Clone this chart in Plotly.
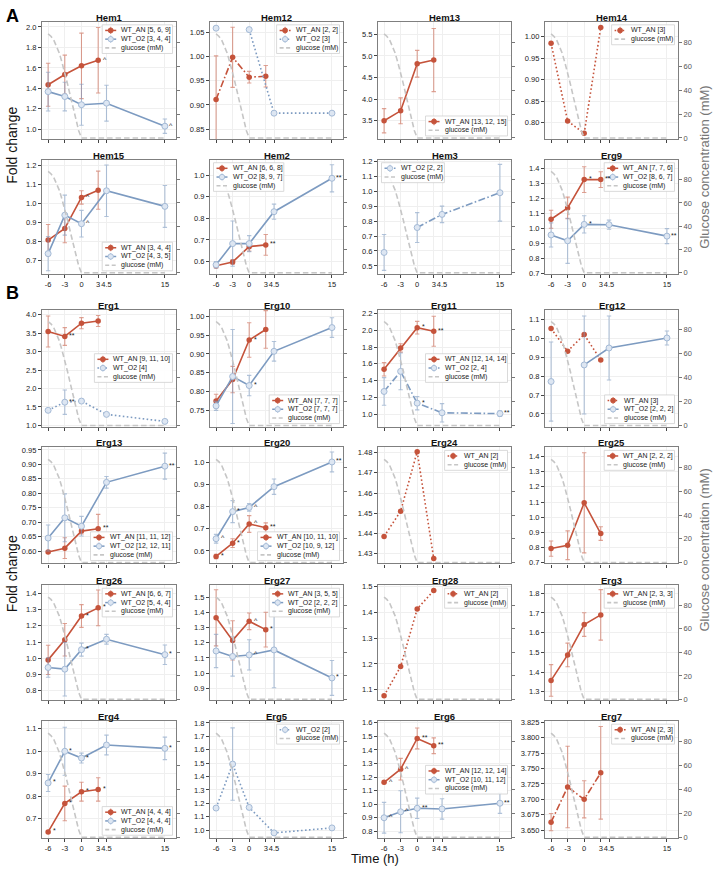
import plotly.graph_objects as go

W, H = 714, 871
FONT = 'Liberation Sans, Arial, sans-serif'

# ---------------- shared values ----------------
T_AN = [-6, -3, 0, 3]
T_O2 = [-6, -3, 0, 4.5, 15]
X_TICKS = [-6, -3, 0, 3, 4.5, 15]
X_TICKTEXT = ['-6', '-3', '0', '3', '4.5', '15']
GLU_T = [-6, -5.5, -5, -4.5, -4, -3.5, -3, -2.5, -2, -1.5, -1, -0.5, 0, 15]
GLU_MM = [87, 85, 82, 77, 71, 63, 55, 45, 35, 25, 15, 6, 0, 0]
GLU_TICKS = [0, 20, 40, 60, 80]

# ---------------- panel data ----------------
hem1_an = [1.435, 1.535, 1.62, 1.675]
hem1_an_sd = [0.21, 0.19, 0.32, 0.32]
hem1_an_sig = ['', '', '', '^']
hem1_an_n = [5, 6, 9]
hem1_o2 = [1.368, 1.32, 1.24, 1.255, 1.03]
hem1_o2_sd = [0.19, 0.14, 0.2, 0.175, 0.07]
hem1_o2_sig = ['', '', '', '', '^']
hem1_o2_n = [3, 4, 4]

hem12_an = [0.911, 0.998, 0.957, 0.959]
hem12_an_sd = [0.09, 0.062, 0.012, 0.022]
hem12_an_n = [2, 2]
hem12_o2 = [1.058, None, 1.055, 0.883, 0.883]
hem12_o2_n = [3]

hem13_an = [3.5, 3.73, 4.82, 4.905]
hem13_an_sd = [0.28, 0.3, 0.31, 0.73]
hem13_an_n = [13, 12, 15]

hem14_an = [0.985, 0.8035, 0.775, 1.022]
hem14_an_n = [3]

hem15_an = [0.809, 0.87, 1.033, 1.071]
hem15_an_sd = [0.082, 0.075, 0.035, 0.1]
hem15_an_sig = ['', '', '^', '']
hem15_an_n = [3, 4, 4]
hem15_o2 = [0.738, 0.94, 0.895, 1.068, 0.986]
hem15_o2_sd = [0.09, 0.105, 0.07, 0.135, 0.11]
hem15_o2_sig = ['', '', '^', '', '']
hem15_o2_n = [4, 3, 5]

hem2_an = [0.58, 0.598, 0.669, 0.677]
hem2_an_sd = [0.01, 0.01, 0.02, 0.048]
hem2_an_sig = ['', '', '', '**']
hem2_an_n = [6, 6, 8]
hem2_o2 = [0.585, 0.683, 0.683, 0.831, 0.986]
hem2_o2_sd = [0.015, 0.105, 0.037, 0.035, 0.063]
hem2_o2_sig = ['', '', '', '', '**']
hem2_o2_n = [8, 9, 7]

hem3_o2 = [0.59, None, 0.757, 0.845, 0.99]
hem3_o2_sd = [0.12, None, 0.1, 0.055, 0.19]
hem3_o2_n = [2, 2]

erg9_an = [1.06, 1.135, 1.323, 1.323]
erg9_an_sd = [0.06, 0.072, 0.085, 0.052]
erg9_an_sig = ['', '', '*', '**']
erg9_an_n = [7, 7, 6]
erg9_o2 = [0.956, 0.917, 1.026, 1.024, 0.948]
erg9_o2_sd = [0.08, 0.15, 0.057, 0.03, 0.05]
erg9_o2_sig = ['', '', '*', '', '**']
erg9_o2_n = [8, 6, 7]

erg1_an = [3.545, 3.41, 3.77, 3.83]
erg1_an_sd = [0.42, 0.24, 0.15, 0.15]
erg1_an_sig = ['', '**', '', '']
erg1_an_n = [9, 11, 10]
erg1_o2 = [1.41, 1.63, 1.66, 1.30, 1.11]
erg1_o2_sd = [None, 0.33, None, None, None]
erg1_o2_sig = ['', '**', '', '', '']
erg1_o2_n = [4]

erg10_an = [0.775, 0.832, 0.937, 0.965]
erg10_an_sd = [0.018, 0.035, 0.046, 0.05]
erg10_an_sig = ['', '', '*', '']
erg10_an_n = [7, 7, 7]
erg10_o2 = [0.762, 0.84, 0.816, 0.907, 0.97]
erg10_o2_sd = [0.012, 0.125, 0.027, 0.026, 0.026]
erg10_o2_sig = ['', '', '*', '', '']
erg10_o2_n = [7, 7, 7]

erg11_an = [1.535, 1.79, 2.033, 1.99]
erg11_an_sd = [0.08, 0.05, 0.075, 0.18]
erg11_an_sig = ['', '', '*', '**']
erg11_an_n = [12, 14, 14]
erg11_o2 = [1.27, 1.51, 1.13, 1.015, 1.005]
erg11_o2_sd = [0.165, 0.22, 0.08, 0.11, 0.035]
erg11_o2_sig = ['', '', '*', '', '**']
erg11_o2_n = [2, 4]

erg12_an = [1.053, 0.933, 1.021, 0.886]
erg12_an_n = [3]
erg12_o2 = [0.772, None, 0.86, 0.95, 1.003]
erg12_o2_sd = [0.21, None, 0.26, 0.17, 0.037]
erg12_o2_n = [2, 2, 2]

erg13_an = [0.597, 0.61, 0.669, 0.677]
erg13_an_sd = [0.005, 0.036, 0.01, 0.05]
erg13_an_sig = ['', '', '', '**']
erg13_an_n = [11, 11, 12]
erg13_o2 = [0.645, 0.715, 0.686, 0.838, 0.894]
erg13_o2_sd = [0.045, 0.083, 0.034, 0.02, 0.045]
erg13_o2_sig = ['', '', '', '', '**']
erg13_o2_n = [12, 12, 11]

erg20_an = [0.575, 0.635, 0.722, 0.705]
erg20_an_sd = [0.01, 0.02, 0.038, 0.022]
erg20_an_sig = ['*', '*', '^', '**']
erg20_an_n = [10, 11, 10]
erg20_o2 = [0.655, 0.778, 0.797, 0.891, 1.003]
erg20_o2_sd = [0.02, 0.05, 0.017, 0.035, 0.045]
erg20_o2_sig = ['^', '*', '^', '', '**']
erg20_o2_n = [10, 9, 12]

erg24_an = [1.4385, 1.451, 1.4805, 1.4275]
erg24_an_n = [2]

erg25_an = [0.793, 0.815, 1.095, 0.892]
erg25_an_sd = [0.05, 0.095, 0.33, 0.045]
erg25_an_n = [2, 2, 2]

erg26_an = [0.99, 1.114, 1.26, 1.31]
erg26_an_sd = [0.09, 0.1, 0.07, 0.11]
erg26_an_sig = ['', '', '*', '*']
erg26_an_n = [6, 6, 7]
erg26_o2 = [0.943, 0.933, 1.053, 1.117, 1.022]
erg26_o2_sd = [0.06, 0.165, 0.04, 0.03, 0.06]
erg26_o2_sig = ['', '', '*', '', '*']
erg26_o2_n = [5, 4, 4]

erg27_an = [1.365, 1.216, 1.342, 1.287]
erg27_an_sd = [0.185, 0.13, 0.055, 0.115]
erg27_an_sig = ['', '', '^', '*']
erg27_an_n = [3, 5, 5]
erg27_o2 = [1.146, 1.11, 1.12, 1.153, 0.968]
erg27_o2_sd = [0.11, 0.13, 0.1, 0.25, 0.115]
erg27_o2_sig = ['', '', '^', '', '*']
erg27_o2_n = [2, 2, 2]

erg28_an = [1.077, 1.19, 1.413, 1.485]
erg28_an_n = [2]

erg3_an = [1.358, 1.487, 1.641, 1.69]
erg3_an_sd = [0.08, 0.06, 0.06, 0.128]
erg3_an_n = [2, 3, 3]

erg4_an = [0.641, 0.768, 0.82, 0.83]
erg4_an_sd = [0.005, 0.077, 0.042, 0.052]
erg4_an_sig = ['*', '*', '*', '*']
erg4_an_n = [4, 4, 4]
erg4_o2 = [0.859, 1.0, 0.97, 1.028, 1.013]
erg4_o2_sd = [0.038, 0.107, 0.022, 0.044, 0.05]
erg4_o2_sig = ['*', '*', '*', '', '*']
erg4_o2_n = [4, 4, 4]

erg5_o2 = [1.165, 1.493, 1.17, 0.98, 1.017]
erg5_o2_sd = [None, 0.27, None, None, None]
erg5_o2_n = [2]

erg6_an = [1.161, 1.258, 1.485, 1.431]
erg6_an_sd = [0.01, 0.08, 0.077, 0.058]
erg6_an_sig = ['^', '^', '**', '**']
erg6_an_n = [12, 12, 14]
erg6_o2 = [0.9, 0.944, 0.97, 0.965, 1.007]
erg6_o2_sd = [0.113, 0.155, 0.075, 0.075, 0.075]
erg6_o2_sig = ['^', '^', '**', '', '**']
erg6_o2_n = [10, 11, 12]

erg7_an = [3.663, 3.72, 3.70, 3.743]
erg7_an_sd = [0.014, 0.066, 0.03, 0.075]
erg7_an_n = [2, 3]


def S(y, n, sd=None, sig=None):
    return dict(y=y, n=n, sd=sd, sig=sig)


PANELS = [
    dict(name='Hem1', an=S(hem1_an, hem1_an_n, hem1_an_sd, hem1_an_sig),
         o2=S(hem1_o2, hem1_o2_n, hem1_o2_sd, hem1_o2_sig), yr=(0.906, 2.05), dt=0.2, fmt='.1f', leg='ur'),
    dict(name='Hem12', an=S(hem12_an, hem12_an_n, hem12_an_sd),
         o2=S(hem12_o2, hem12_o2_n), yr=(0.83, 1.071), dt=0.05, fmt='.2f', leg='ur'),
    dict(name='Hem13', an=S(hem13_an, hem13_an_n, hem13_an_sd), o2=None,
         yr=(3.08, 5.79), dt=0.5, fmt='.1f', leg='lr'),
    dict(name='Hem14', an=S(hem14_an, hem14_an_n), o2=None,
         yr=(0.762, 1.035), dt=0.05, fmt='.2f', leg='ur'),
    dict(name='Hem15', an=S(hem15_an, hem15_an_n, hem15_an_sd, hem15_an_sig),
         o2=S(hem15_o2, hem15_o2_n, hem15_o2_sd, hem15_o2_sig), yr=(0.632, 1.231), dt=0.1, fmt='.1f', leg='lr'),
    dict(name='Hem2', an=S(hem2_an, hem2_an_n, hem2_an_sd, hem2_an_sig),
         o2=S(hem2_o2, hem2_o2_n, hem2_o2_sd, hem2_o2_sig), yr=(0.543, 1.072), dt=0.1, fmt='.1f', leg='ul'),
    dict(name='Hem3', an=None, o2=S(hem3_o2, hem3_o2_n, hem3_o2_sd),
         yr=(0.447, 1.211), dt=0.1, fmt='.1f', leg='ul'),
    dict(name='Erg9', an=S(erg9_an, erg9_an_n, erg9_an_sd, erg9_an_sig),
         o2=S(erg9_o2, erg9_o2_n, erg9_o2_sd, erg9_o2_sig), yr=(0.698, 1.455), dt=0.1, fmt='.1f', leg='ur'),
    dict(name='Erg1', an=S(erg1_an, erg1_an_n, erg1_an_sd, erg1_an_sig),
         o2=S(erg1_o2, erg1_o2_n, erg1_o2_sd, erg1_o2_sig), yr=(0.97, 4.14), dt=0.5, fmt='.1f', leg='cr'),
    dict(name='Erg10', an=S(erg10_an, erg10_an_n, erg10_an_sd, erg10_an_sig),
         o2=S(erg10_o2, erg10_o2_n, erg10_o2_sd, erg10_o2_sig), yr=(0.707, 1.018), dt=0.05, fmt='.2f', leg='lr'),
    dict(name='Erg11', an=S(erg11_an, erg11_an_n, erg11_an_sd, erg11_an_sig),
         o2=S(erg11_o2, erg11_o2_n, erg11_o2_sd, erg11_o2_sig), yr=(0.85, 2.25), dt=0.2, fmt='.1f', leg='cr'),
    dict(name='Erg12', an=S(erg12_an, erg12_an_n),
         o2=S(erg12_o2, erg12_o2_n, erg12_o2_sd), yr=(0.533, 1.154), dt=0.1, fmt='.1f', leg='lr'),
    dict(name='Erg13', an=S(erg13_an, erg13_an_n, erg13_an_sd, erg13_an_sig),
         o2=S(erg13_o2, erg13_o2_n, erg13_o2_sd, erg13_o2_sig), yr=(0.557, 0.959), dt=0.05, fmt='.2f', leg='lr'),
    dict(name='Erg20', an=S(erg20_an, erg20_an_n, erg20_an_sd, erg20_an_sig),
         o2=S(erg20_o2, erg20_o2_n, erg20_o2_sd, erg20_o2_sig), yr=(0.543, 1.069), dt=0.1, fmt='.1f', leg='lr'),
    dict(name='Erg24', an=S(erg24_an, erg24_an_n), o2=None,
         yr=(1.4251, 1.4826), dt=0.01, fmt='.2f', leg='ur'),
    dict(name='Erg25', an=S(erg25_an, erg25_an_n, erg25_an_sd), o2=None,
         yr=(0.695, 1.46), dt=0.1, fmt='.1f', leg='ur'),
    dict(name='Erg26', an=S(erg26_an, erg26_an_n, erg26_an_sd, erg26_an_sig),
         o2=S(erg26_o2, erg26_o2_n, erg26_o2_sd, erg26_o2_sig), yr=(0.741, 1.449), dt=0.1, fmt='.1f', leg='ur'),
    dict(name='Erg27', an=S(erg27_an, erg27_an_n, erg27_an_sd, erg27_an_sig),
         o2=S(erg27_o2, erg27_o2_n, erg27_o2_sd, erg27_o2_sig), yr=(0.82, 1.58), dt=0.1, fmt='.1f', leg='ur'),
    dict(name='Erg28', an=S(erg28_an, erg28_an_n), o2=None,
         yr=(1.059, 1.505), dt=0.1, fmt='.1f', leg='ur'),
    dict(name='Erg3', an=S(erg3_an, erg3_an_n, erg3_an_sd), o2=None,
         yr=(1.257, 1.84), dt=0.1, fmt='.1f', leg='ur'),
    dict(name='Erg4', an=S(erg4_an, erg4_an_n, erg4_an_sd, erg4_an_sig),
         o2=S(erg4_o2, erg4_o2_n, erg4_o2_sd, erg4_o2_sig), yr=(0.613, 1.134), dt=0.1, fmt='.1f', leg='lr'),
    dict(name='Erg5', an=None, o2=S(erg5_o2, erg5_o2_n, erg5_o2_sd),
         yr=(0.94, 1.813), dt=0.1, fmt='.1f', leg='ur'),
    dict(name='Erg6', an=S(erg6_an, erg6_an_n, erg6_an_sd, erg6_an_sig),
         o2=S(erg6_o2, erg6_o2_n, erg6_o2_sd, erg6_o2_sig), yr=(0.749, 1.612), dt=0.1, fmt='.1f', leg='cr'),
    dict(name='Erg7', an=S(erg7_an, erg7_an_n, erg7_an_sd), o2=None,
         yr=(3.637, 3.8266), dt=0.025, fmt='.3f', leg='ur'),
]

# ---------------- layout geometry (px) ----------------
COLS = [(42, 176), (210, 343), (378, 511), (545, 678)]
ROWS = [(19, 137), (158, 273), (309, 427), (448, 565), (587, 703), (724, 842)]
LABEL_ROWS = (1, 5)
X_RANGE = [-7.1, 17]
GLU_RANGE = [-0.8, 97]

RED = '#C5533B'
RED_ERR = 'rgba(197,83,59,0.55)'
BLUE = '#7D9BC1'
BLUE_ERR = 'rgba(125,155,193,0.6)'
O2_FILL = '#dde6f2'
O2_EDGE = '#a4bad6'
GLU_COL = '#c6c6c6'
FRAME = '#7f7f7f'
GRID = '#efefef'

DOT = '1.6px,2.4px'
DASHDOT = '7px,2.4px,1.6px,2.4px'
GLU_DASH = '5.5px,3px'


def line_dash(n):
    if len(n) == 1:
        return DOT
    if len(n) == 2:
        return DASHDOT
    return 'solid'


def px_x(x):
    return x / W


def px_y(y):
    return 1 - y / H


ARIAL = {'0': .556, '1': .556, '2': .556, '3': .556, '4': .556, '5': .556, '6': .556, '7': .556,
         '8': .556, '9': .556, ' ': .278, ',': .278, '.': .278, '[': .278, ']': .278, '_': .556,
         'W': .944, 'T': .611, 'A': .667, 'N': .722, 'O': .778, 'g': .556, 'l': .222, 'u': .556,
         'c': .5, 'o': .556, 's': .5, 'e': .556, '(': .333, ')': .333, 'm': .833, 'M': .833}


def text_w(s, fs):
    return sum(ARIAL.get(c, 0.556) for c in s) * fs


fig = go.Figure()
layout = dict(width=W, height=H, margin=dict(l=0, r=0, t=0, b=0), autosize=False,
              paper_bgcolor='white', plot_bgcolor='white', showlegend=False,
              font=dict(family=FONT, size=7.5, color='#222'))
shapes = []
annotations = []

LEG_FS = 7
ROW_H = 8.8


def add_legend(col, row, entries, loc):
    ax0, ax1 = COLS[col]
    ay0, ay1 = ROWS[row]
    maxw = max(text_w(lbl, LEG_FS) for lbl, _, _ in entries)
    bw = 17 + maxw + 3.5
    bh = len(entries) * ROW_H + 2.5
    if loc in ('ur', 'cr', 'lr'):
        bx1 = ax1 - 3.5
        bx0 = bx1 - bw
    else:
        bx0 = ax0 + 3.5
        bx1 = bx0 + bw
    if loc[0] == 'u':
        by0 = ay0 + 3
    elif loc[0] == 'l':
        by0 = ay1 - 3 - bh
    else:
        by0 = (ay0 + ay1) / 2 - bh / 2
    by1 = by0 + bh
    shapes.append(dict(type='rect', xref='paper', yref='paper', x0=px_x(bx0), x1=px_x(bx1),
                       y0=px_y(by1), y1=px_y(by0), fillcolor='rgba(255,255,255,0.9)',
                       line=dict(color='#d0d0d0', width=0.8), layer='above'))
    for i, (lbl, kind, dash) in enumerate(entries):
        cy = by0 + 1.25 + ROW_H * (i + 0.5)
        lx0, lx1 = bx0 + 3, bx0 + 14
        cx = (lx0 + lx1) / 2
        if kind == 'glu':
            shapes.append(dict(type='line', xref='paper', yref='paper', x0=px_x(lx0), x1=px_x(lx1),
                               y0=px_y(cy), y1=px_y(cy), line=dict(color=GLU_COL, width=1.6, dash='4px,2.5px'),
                               layer='above'))
        else:
            col_line = RED if kind == 'an' else BLUE
            col_err = RED_ERR if kind == 'an' else BLUE_ERR
            shapes.append(dict(type='line', xref='paper', yref='paper', x0=px_x(lx0), x1=px_x(lx1),
                               y0=px_y(cy), y1=px_y(cy), line=dict(color=col_line, width=1.5, dash=dash),
                               layer='above'))
            shapes.append(dict(type='line', xref='paper', yref='paper', x0=px_x(cx), x1=px_x(cx),
                               y0=px_y(cy - 3.6), y1=px_y(cy + 3.6), line=dict(color=col_err, width=1.1),
                               layer='above'))
            r = 2.5 if kind == 'an' else 2.7
            fill = RED if kind == 'an' else O2_FILL
            edge = RED if kind == 'an' else O2_EDGE
            shapes.append(dict(type='circle', xref='paper', yref='paper', x0=px_x(cx - r), x1=px_x(cx + r),
                               y0=px_y(cy + r), y1=px_y(cy - r), fillcolor=fill,
                               line=dict(color=edge, width=0.9), layer='above'))
        annotations.append(dict(xref='paper', yref='paper', x=px_x(bx0 + 17), y=px_y(cy), text=lbl,
                                showarrow=False, xanchor='left', yanchor='middle',
                                font=dict(size=LEG_FS, color='#222', family=FONT)))


for k, p in enumerate(PANELS):
    row, col = divmod(k, 4)
    x0, x1 = COLS[col]
    y0, y1 = ROWS[row]
    xn, yn, y2n = k + 1, 2 * k + 1, 2 * k + 2
    xid = 'x' if xn == 1 else f'x{xn}'
    yid = 'y' if yn == 1 else f'y{yn}'
    y2id = f'y{y2n}'
    xkey = 'xaxis' if xn == 1 else f'xaxis{xn}'
    ykey = 'yaxis' if yn == 1 else f'yaxis{yn}'
    y2key = f'yaxis{y2n}'

    layout[xkey] = dict(domain=[px_x(x0), px_x(x1)], range=X_RANGE, anchor=yid,
                        tickmode='array', tickvals=X_TICKS, ticktext=X_TICKTEXT,
                        showticklabels=row in LABEL_ROWS, tickangle=0,
                        ticks='outside', ticklen=3, tickwidth=0.8, tickcolor='#444',
                        showgrid=True, gridcolor=GRID, gridwidth=0.8,
                        showline=True, mirror=True, linecolor=FRAME, linewidth=1.1,
                        zeroline=False, tickfont=dict(size=7.5, color='#222'))
    layout[ykey] = dict(domain=[px_y(y1), px_y(y0)], range=list(p['yr']), anchor=xid,
                        tick0=0, dtick=p['dt'], tickformat=p['fmt'],
                        ticks='outside', ticklen=3, tickwidth=0.8, tickcolor='#444',
                        showgrid=True, gridcolor=GRID, gridwidth=0.8,
                        showline=True, mirror=True, linecolor=FRAME, linewidth=1.1,
                        zeroline=False, tickfont=dict(size=7.5, color='#222'))
    layout[y2key] = dict(overlaying=yid, side='right', anchor=xid, range=GLU_RANGE,
                         tickmode='array', tickvals=GLU_TICKS, showticklabels=(col == 3),
                         ticks='outside', ticklen=3, tickwidth=0.8, tickcolor='#777',
                         showgrid=False, zeroline=False, showline=False,
                         tickfont=dict(size=7.5, color='#555'))

    # glucose curve (secondary axis)
    fig.add_trace(go.Scatter(x=GLU_T, y=GLU_MM, xaxis=xid, yaxis=y2id, mode='lines',
                             line=dict(color=GLU_COL, width=1.6, dash=GLU_DASH), hoverinfo='skip'))

    entries = []
    for key, times in (('an', T_AN), ('o2', T_O2)):
        s = p[key]
        if s is None:
            continue
        dash = line_dash(s['n'])
        if key == 'an':
            marker = dict(size=5.5, color=RED, line=dict(width=0))
            lcol, ecol = RED, RED_ERR
        else:
            marker = dict(size=6, color=O2_FILL, line=dict(color=O2_EDGE, width=1))
            lcol, ecol = BLUE, BLUE_ERR
        err = None
        if s['sd'] is not None:
            err = dict(type='data', array=s['sd'], visible=True, color=ecol, thickness=1.1, width=2.2)
        fig.add_trace(go.Scatter(x=times, y=s['y'], xaxis=xid, yaxis=yid, mode='lines+markers',
                                 line=dict(color=lcol, width=1.6, dash=dash), marker=marker,
                                 error_y=err, cliponaxis=False))
        if s['sig']:
            for t, v, mark in zip(times, s['y'], s['sig']):
                if mark and v is not None:
                    annotations.append(dict(xref=xid, yref=yid, x=t, y=v, text=mark, showarrow=False,
                                            xanchor='left', yanchor='middle', xshift=2.5, yshift=1,
                                            font=dict(size=7, color='#222', family=FONT)))
        label = ('WT_AN ' if key == 'an' else 'WT_O2 ') + str(s['n'])
        entries.append((label, key, dash))
    entries.append(('glucose (mM)', 'glu', None))
    add_legend(col, row, entries, p['leg'])

    # panel title
    annotations.append(dict(xref='paper', yref='paper', x=px_x((x0 + x1) / 2), y=px_y(y0 - 4.5),
                            text='<b>' + p['name'] + '</b>', showarrow=False,
                            xanchor='center', yanchor='middle',
                            font=dict(size=9.5, color='#111', family=FONT)))

# figure-level labels
annotations += [
    dict(xref='paper', yref='paper', x=px_x(12), y=px_y(13), text='<b>A</b>', showarrow=False,
         xanchor='center', yanchor='middle', font=dict(size=18, color='#000', family=FONT)),
    dict(xref='paper', yref='paper', x=px_x(12), y=px_y(292), text='<b>B</b>', showarrow=False,
         xanchor='center', yanchor='middle', font=dict(size=18, color='#000', family=FONT)),
    dict(xref='paper', yref='paper', x=px_x(12), y=px_y(144), text='Fold change', showarrow=False,
         textangle=-90, xanchor='center', yanchor='middle', font=dict(size=14, color='#111', family=FONT)),
    dict(xref='paper', yref='paper', x=px_x(12), y=px_y(576), text='Fold change', showarrow=False,
         textangle=-90, xanchor='center', yanchor='middle', font=dict(size=14, color='#111', family=FONT)),
    dict(xref='paper', yref='paper', x=px_x(705), y=px_y(166), text='Glucose concentration (mM)',
         showarrow=False, textangle=-90, xanchor='center', yanchor='middle',
         font=dict(size=13, color='#777', family=FONT)),
    dict(xref='paper', yref='paper', x=px_x(705), y=px_y(552), text='Glucose concentration (mM)',
         showarrow=False, textangle=-90, xanchor='center', yanchor='middle',
         font=dict(size=13, color='#777', family=FONT)),
    dict(xref='paper', yref='paper', x=px_x(375), y=px_y(862.5), text='Time (h)', showarrow=False,
         xanchor='center', yanchor='middle', font=dict(size=13, color='#111', family=FONT)),
]

layout['shapes'] = shapes
layout['annotations'] = annotations
fig.update_layout(**layout)
fig.write_html('out.html', config={'displayModeBar': False},
               post_script="document.body.style.margin='0';document.body.style.padding='0';"
                           "document.documentElement.style.overflow='hidden';")
